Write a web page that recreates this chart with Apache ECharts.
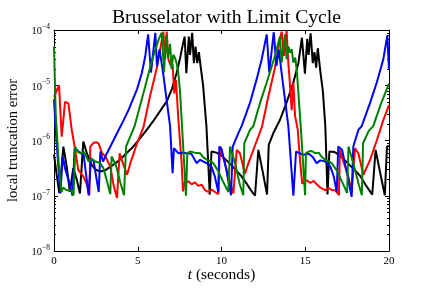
<!DOCTYPE html>
<html><head><meta charset="utf-8">
<script src="https://cdn.jsdelivr.net/npm/echarts@6/dist/echarts.min.js"></script>
<style>html,body{margin:0;padding:0;background:#fff}#c{width:432px;height:288px}</style>
</head><body><div id="c"></div>
<script>
// time (s) and local truncation error values
const blackT = [0,0.15,0.32,0.56,0.75,0.95,1.15,1.35,1.55,1.75,1.95,2.2,2.45,2.75,3.05,3.4,3.85,4.3,4.7,5.05,5.5,5.9,6.35,6.75,7.05,7.32,7.52,7.72,7.8,7.9,8.05,8.12,8.25,8.35,8.45,8.55,8.65,8.75,8.9,9.1,9.3,9.4,9.7,10.0,10.3,10.6,10.9,11.2,11.5,11.75,12.0,12.2,12.45,12.72,12.82,13.09,13.5,13.9,14.29,14.59,14.8,14.98,15.12,15.2,15.32,15.45,15.55,15.65,15.75,15.9,16.05,16.2,16.33,16.44,16.75,17.07,17.37,17.67,18.0,18.3,18.6,19.0,19.2,19.45,19.75,19.88,20.0];
const blackY = [5.62e-7,2.51e-7,1.12e-7,7.76e-7,3.55e-7,1.17e-7,3.16e-7,2.0e-7,1.10e-7,9.55e-7,6.03e-7,3.80e-7,3.02e-7,2.75e-7,2.88e-7,3.39e-7,4.27e-7,5.75e-7,7.59e-7,1.02e-6,1.51e-6,2.19e-6,3.47e-6,5.25e-6,8.71e-6,1.66e-5,3.02e-5,6.03e-5,7.59e-5,1.66e-5,7.59e-5,3.55e-5,8.91e-5,2.51e-5,5.01e-5,2.51e-5,3.98e-5,2.24e-5,1.0e-5,1.82e-6,1.05e-7,6.31e-7,6.03e-7,5.37e-7,4.37e-7,3.55e-7,2.82e-7,2.24e-7,1.66e-7,1.26e-7,1.0e-7,6.76e-7,2.82e-7,1.05e-7,8.32e-7,1.35e-6,2.40e-6,5.01e-6,1.12e-5,2.51e-5,7.24e-5,1.62e-5,6.92e-5,3.55e-5,8.71e-5,2.51e-5,3.98e-5,2.09e-5,4.68e-5,1.78e-5,7.94e-6,1.78e-6,1.05e-7,6.31e-7,6.17e-7,5.37e-7,4.37e-7,3.55e-7,2.82e-7,2.24e-7,1.58e-7,1.05e-7,6.76e-7,2.82e-7,1.02e-7,7.76e-7,7.94e-7];

const redT = [0,0.3,0.46,0.66,0.86,1.06,1.25,1.45,1.75,1.97,2.11,2.17,2.37,2.55,2.67,2.87,3.07,3.36,3.56,3.76,3.92,4.1,4.36,4.56,4.96,5.35,5.73,6.13,6.4,6.53,6.63,6.73,6.83,6.96,7.08,7.18,7.28,7.42,7.62,7.7,7.8,8.02,8.22,8.42,8.62,8.82,9.01,9.21,9.41,9.61,9.81,9.91,10.21,10.45,10.71,10.91,11.1,11.4,11.61,12.05,12.42,12.8,13.18,13.47,13.59,13.73,13.89,13.99,14.09,14.19,14.29,14.39,14.55,14.7,14.82,15.09,15.3,15.5,15.68,15.9,16.18,16.4,16.6,16.8,17.01,17.07,17.3,17.57,17.77,17.97,18.17,18.47,18.87,19.27,19.66,20.0];
const redY = [6.17e-6,1.0e-5,1.17e-6,5.01e-6,4.68e-6,1.55e-6,7.24e-7,2.95e-7,2.24e-7,1.58e-7,1.02e-7,7.76e-7,9.12e-7,9.33e-7,8.71e-7,5.89e-7,5.13e-7,3.39e-7,1.55e-7,9.12e-8,5.89e-7,3.98e-7,2.40e-7,3.89e-7,8.91e-7,1.78e-6,6.31e-6,2.0e-5,5.62e-5,9.33e-5,2.95e-5,9.33e-5,2.95e-5,2.29e-5,2.40e-5,7.08e-6,1.26e-5,2.51e-6,3.89e-7,1.20e-7,1.74e-7,1.82e-7,1.62e-7,1.74e-7,1.51e-7,1.58e-7,1.26e-7,1.17e-7,1.29e-7,1.17e-7,1.07e-7,7.76e-7,3.89e-7,2.0e-7,1.10e-7,6.76e-7,5.89e-7,2.51e-7,3.89e-7,8.91e-7,1.78e-6,6.31e-6,2.0e-5,6.31e-5,9.33e-5,3.39e-5,9.55e-5,2.51e-5,1.0e-5,3.55e-6,1.12e-5,2.82e-6,1.58e-6,3.98e-7,1.66e-7,1.91e-7,1.70e-7,1.86e-7,1.62e-7,1.41e-7,1.26e-7,1.38e-7,1.26e-7,1.26e-7,1.02e-7,6.76e-7,3.98e-7,2.24e-7,1.17e-7,7.24e-7,5.89e-7,2.40e-7,4.47e-7,1.0e-6,2.34e-6,4.37e-6];

const blueT = [0,0.12,0.38,0.52,0.68,0.9,1.11,1.23,1.47,1.77,2.07,2.21,2.37,2.67,2.77,2.93,3.16,3.56,3.86,4.16,4.46,4.96,5.25,5.45,5.62,5.79,6.05,6.15,6.3,6.5,6.93,7.08,7.16,7.42,7.7,7.92,8.2,8.52,8.72,8.9,9.12,9.4,9.6,9.81,9.87,10.0,10.3,10.57,10.67,11.0,11.2,11.7,12.1,12.4,12.7,12.85,13.12,13.28,13.42,13.6,13.99,14.29,14.45,14.89,15.2,15.45,15.68,15.9,16.2,16.5,16.7,16.88,16.97,17.2,17.5,17.77,17.87,18.17,18.37,18.87,19.27,19.66,19.9,20.0];
const blueY = [5.62e-6,1.26e-6,1.10e-7,5.13e-7,2.95e-7,1.78e-7,1.0e-7,7.24e-7,6.31e-7,5.50e-7,1.02e-7,4.79e-7,4.17e-7,1.17e-7,6.31e-7,4.17e-7,5.89e-7,1.02e-6,1.55e-6,2.34e-6,3.63e-6,8.51e-6,1.70e-5,3.39e-5,8.32e-5,1.70e-5,8.91e-5,2.19e-5,4.47e-5,1.78e-5,1.82e-6,2.57e-7,7.24e-7,5.89e-7,6.03e-7,5.89e-7,5.75e-7,3.89e-7,4.47e-7,4.17e-7,3.89e-7,3.39e-7,2.24e-7,1.17e-7,7.76e-7,7.08e-7,2.82e-7,1.02e-7,7.76e-7,1.35e-6,1.82e-6,4.79e-6,1.29e-5,2.95e-5,8.32e-5,1.70e-5,9.12e-5,2.24e-5,4.47e-5,1.58e-5,1.82e-6,1.0e-7,6.31e-7,5.50e-7,5.75e-7,5.01e-7,3.89e-7,4.37e-7,4.17e-7,3.39e-7,2.24e-7,1.17e-7,7.76e-7,6.76e-7,2.51e-7,9.55e-8,7.76e-7,1.55e-6,1.82e-6,4.79e-6,1.12e-5,2.95e-5,7.94e-5,1.91e-5];

const greenT = [0,0.1,0.28,0.44,0.55,0.7,0.9,1.05,1.17,1.27,1.4,1.57,1.8,2.07,2.25,2.47,2.75,2.95,3.14,3.36,3.44,3.7,3.95,4.18,4.3,4.8,5.35,5.85,6.25,6.43,6.57,6.69,6.8,6.93,7.02,7.12,7.22,7.32,7.42,7.52,7.62,7.88,7.96,8.12,8.4,8.72,8.9,9.12,9.3,9.51,9.8,10.1,10.41,10.51,10.8,11.1,11.3,11.36,11.7,11.9,12.3,12.7,13.19,13.49,13.59,13.79,13.89,14.0,14.09,14.19,14.29,14.4,14.5,14.73,14.99,15.04,15.2,15.38,15.6,15.8,16.0,16.18,16.4,16.58,16.9,17.2,17.5,17.58,17.9,18.2,18.38,18.45,18.8,19.06,19.5,20.0];
const greenY = [5.01e-5,3.16e-6,3.89e-7,1.17e-7,1.41e-7,1.29e-7,1.23e-7,1.26e-7,1.02e-7,7.76e-7,6.31e-7,5.89e-7,6.17e-7,4.17e-7,4.68e-7,4.17e-7,3.89e-7,3.16e-7,1.95e-7,1.07e-7,5.13e-7,3.55e-7,1.78e-7,1.02e-7,7.76e-7,1.78e-6,7.41e-6,2.82e-5,6.76e-5,8.91e-5,1.70e-5,7.94e-5,3.16e-5,5.62e-5,1.95e-5,3.55e-5,3.16e-5,2.51e-5,1.70e-5,7.94e-6,2.40e-6,1.0e-7,5.89e-7,6.31e-7,6.03e-7,5.89e-7,5.01e-7,4.47e-7,4.27e-7,3.89e-7,2.82e-7,1.78e-7,1.17e-7,7.76e-7,3.98e-7,1.58e-7,1.02e-7,8.91e-7,1.55e-6,1.82e-6,4.79e-6,1.12e-5,3.39e-5,7.59e-5,2.57e-5,8.32e-5,2.95e-5,5.01e-5,3.89e-5,4.47e-5,2.57e-5,3.16e-5,1.78e-5,1.82e-6,1.02e-7,5.89e-7,6.31e-7,6.46e-7,5.89e-7,6.03e-7,5.01e-7,4.47e-7,4.17e-7,3.89e-7,2.82e-7,1.78e-7,1.12e-7,7.76e-7,3.55e-7,1.58e-7,1.02e-7,8.91e-7,1.51e-6,1.82e-6,4.47e-6,1.07e-5];

const xTicks = [0, 5, 10, 15, 20];
const yDecades = [1e-8, 1e-7, 1e-6, 1e-5, 1e-4];
const minorMult = [2,3,4,5,6,7,8,9];

const FONT = '"Liberation Serif","DejaVu Serif",serif';
const zip = (t, y) => t.map((v, i) => [v, y[i]]);
const chart = echarts.init(document.getElementById('c'), null, {renderer: 'canvas'});

const axisBase = {
  axisLine: {show: true, onZero: false, lineStyle: {color: '#000', width: 1}},
  axisTick: {show: true, inside: true, length: 4, lineStyle: {color: '#000', width: 1}},
  splitLine: {show: false}
};
const supFmt = v => {
  const e = Math.round(Math.log10(v));
  return '{b|10}{s|\u2212' + Math.abs(e) + '}';
};

chart.setOption({
  animation: false,
  backgroundColor: '#fff',
  title: {
    text: 'Brusselator with Limit Cycle',
    left: 221.5, top: 3, textAlign: 'center',
    textStyle: {fontFamily: FONT, fontSize: 19.7, fontWeight: 'normal', color: '#000'}
  },
  grid: {left: 54, right: 43, top: 30, bottom: 37, containLabel: false, outerBoundsMode: 'none'},
  xAxis: [
    Object.assign({}, axisBase, {
      type: 'value', min: xTicks[0], max: xTicks[xTicks.length - 1], interval: 5, position: 'bottom',
      axisLabel: {fontFamily: FONT, fontSize: 11, color: '#000', margin: 5},
      name: '{i|t} (seconds)', nameLocation: 'middle', nameGap: 16, nameMoveOverlap: false,
      nameTextStyle: {fontFamily: FONT, fontSize: 15.5, color: '#000',
        rich: {i: {fontFamily: FONT, fontSize: 15.5, fontStyle: 'italic', color: '#000'}}}
    }),
    Object.assign({}, axisBase, {
      type: 'value', min: 0, max: 20, interval: 5, position: 'top',
      axisLabel: {show: false}
    })
  ],
  yAxis: [
    Object.assign({}, axisBase, {
      type: 'log', logBase: 10, min: yDecades[0], max: yDecades[yDecades.length - 1], position: 'left',
      axisLabel: {formatter: supFmt, margin: 4, color: '#000',
        rich: {b: {fontFamily: FONT, fontSize: 10.5, color: '#000', verticalAlign: 'bottom', lineHeight: 14},
               s: {fontFamily: FONT, fontSize: 7.5, color: '#000', verticalAlign: 'top', lineHeight: 14, padding: [0, 0, 6, 0]}}},
      name: 'local truncation error', nameLocation: 'middle', nameGap: 33, nameRotate: 90, nameMoveOverlap: false,
      nameTextStyle: {fontFamily: FONT, fontSize: 14.6, color: '#000'}
    }),
    Object.assign({}, axisBase, {
      type: 'log', logBase: 10, min: 1e-8, max: 1e-4, position: 'right',
      axisLabel: {show: false}
    })
  ],
  series: [
    {name: 'black', color: '#000000', data: zip(blackT, blackY)},
    {name: 'red', color: '#ff0000', data: zip(redT, redY)},
    {name: 'blue', color: '#0000ff', data: zip(blueT, blueY)},
    {name: 'green', color: '#008000', data: zip(greenT, greenY)}
  ].map(s => ({
    type: 'line', name: s.name, data: s.data, xAxisIndex: 0, yAxisIndex: 0,
    showSymbol: false, symbol: 'none', clip: true,
    lineStyle: {color: s.color, width: 2}, itemStyle: {color: s.color}
  }))
});

// minor log ticks (2..9 per decade), placed through the y axis scale
const minor = [];
const xl = chart.convertToPixel({xAxisIndex: 0}, 0);
const xr = chart.convertToPixel({xAxisIndex: 0}, 20);
for (let d = 0; d < yDecades.length - 1; d++) {
  for (const m of minorMult) {
    const y = Math.round(chart.convertToPixel({yAxisIndex: 0}, m * yDecades[d])) + 0.5;
    minor.push({type: 'line', silent: true, shape: {x1: xl, y1: y, x2: xl + 2, y2: y}, style: {stroke: '#000', lineWidth: 1}});
    minor.push({type: 'line', silent: true, shape: {x1: xr - 2, y1: y, x2: xr, y2: y}, style: {stroke: '#000', lineWidth: 1}});
  }
}
chart.setOption({graphic: minor});
</script></body></html>
